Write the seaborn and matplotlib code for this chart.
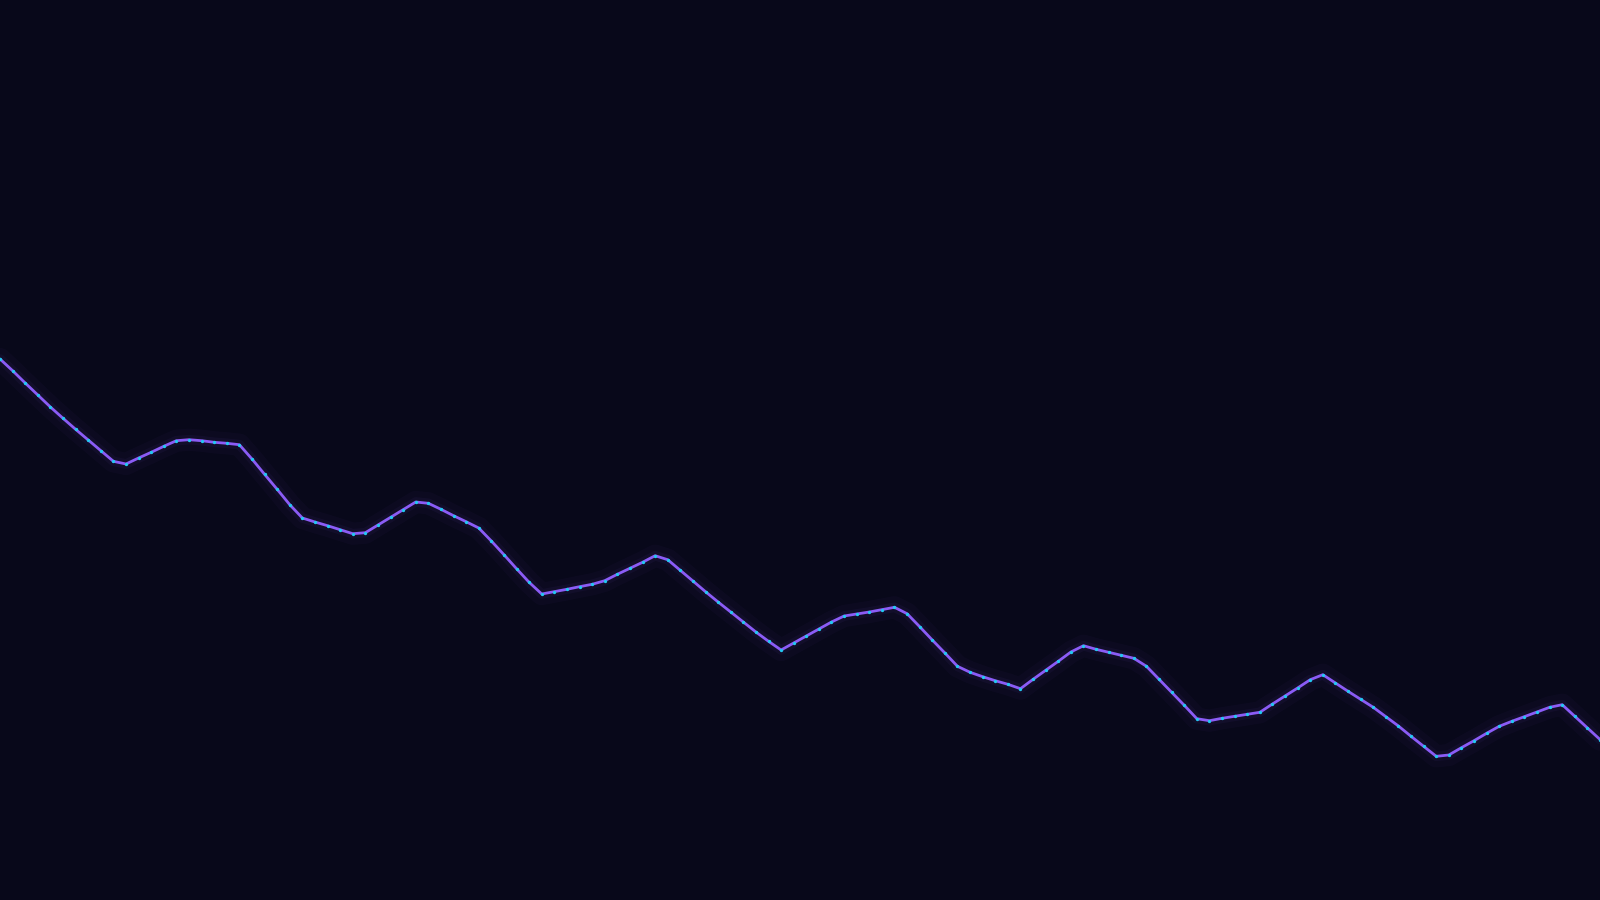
import numpy as np
import pandas as pd
import seaborn as sns
import matplotlib.pyplot as plt

# heights of the line (0 = bottom edge, 900 = top edge)
values = [
    541.0, 529.3, 517.0, 505.0, 493.0, 481.7, 470.7, 460.0, 449.3, 438.7,
    436.0, 442.0, 447.7, 453.7, 459.3, 460.3, 459.3, 457.7, 456.7, 455.3,
    441.0, 425.7, 410.7, 395.3, 382.0, 378.0, 374.3, 370.3, 366.3, 367.3,
    375.0, 382.7, 390.3, 398.0, 396.7, 390.7, 384.3, 378.3, 372.0, 359.0,
    345.3, 331.3, 317.7, 306.0, 308.3, 310.7, 313.3, 315.7, 319.3, 325.7,
    331.7, 337.7, 344.3, 340.3, 329.7, 319.0, 308.3, 298.0, 288.0, 278.0,
    268.0, 258.7, 250.0, 257.0, 264.0, 271.0, 278.0, 284.0, 286.0, 288.0,
    290.3, 292.7, 286.3, 273.3, 260.0, 247.0, 233.7, 227.7, 223.3, 219.3,
    215.7, 211.3, 220.7, 229.7, 238.7, 248.0, 254.3, 250.7, 247.7, 244.7,
    241.7, 233.7, 220.7, 207.7, 194.7, 181.3, 179.3, 181.7, 183.7, 185.7,
    187.7, 196.0, 204.0, 212.0, 220.3, 225.3, 217.0, 208.7, 200.7, 192.7,
    183.3, 174.0, 163.7, 153.7, 143.7, 145.0, 152.3, 159.3, 166.7, 173.7,
    178.7, 183.3, 188.0, 192.7, 195.3, 183.7, 172.0, 160.5,
]

df = pd.DataFrame({"step": np.arange(len(values)), "value": values})

bg = "#08081a"
line_color = "#8b5cf6"
dot_color = "#22c8f0"

sns.set_theme(style="dark", rc={"axes.facecolor": bg, "figure.facecolor": bg})

fig = plt.figure(figsize=(16, 9), dpi=100)
ax = fig.add_axes([0, 0, 1, 1])
ax.set_facecolor(bg)

# soft glow under the line
sns.lineplot(data=df, x="step", y="value", ax=ax, color=line_color,
             linewidth=16, alpha=0.03)
sns.lineplot(data=df, x="step", y="value", ax=ax, color=line_color,
             linewidth=7, alpha=0.05)
sns.lineplot(data=df, x="step", y="value", ax=ax, color=line_color,
             linewidth=2.0, marker="o", markersize=2.4,
             markerfacecolor=dot_color, markeredgecolor=dot_color,
             markeredgewidth=0)

ax.set_xlim(0, len(values) - 1)
ax.set_ylim(0, 900)
ax.set_axis_off()

plt.savefig("out.png", dpi=100, facecolor=bg)
